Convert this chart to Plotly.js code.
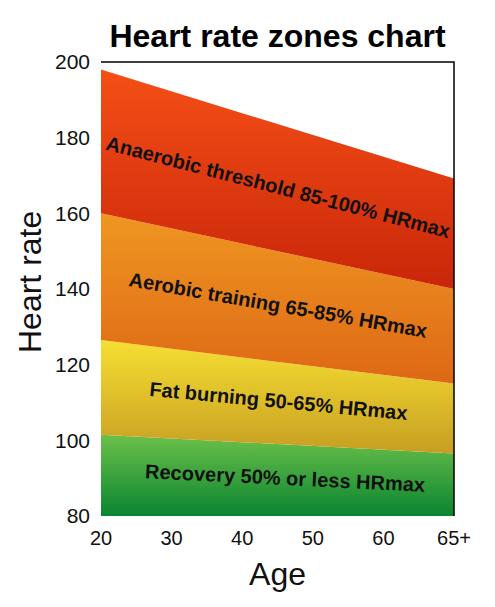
<!DOCTYPE html>
<html>
<head>
<meta charset="utf-8">
<script src="https://cdn.plot.ly/plotly-3.0.1.min.js"></script>
<style>html,body{margin:0;padding:0;background:#fff;}</style>
</head>
<body>
<div id="chart" style="width:495px;height:607px;"></div>
<script>
// Data
const ages = ['20', '30', '40', '50', '60', '65+'];
const floorHR = [80, 80, 80, 80, 80, 80];
const recoveryTop = [101.5, 100.5, 99.5, 98.5, 97.5, 96.5];     // 50% HRmax
const fatBurnTop = [126.5, 124.2, 122, 119.7, 117.3, 115];       // 65% HRmax
const aerobicTop = [160, 156, 152, 148, 144, 140];               // 85% HRmax
const anaerobicTop = [198, 192.2, 186.5, 180.7, 175, 169.2];     // 100% HRmax
const zoneLabels = [
  'Recovery 50% or less HRmax',
  'Fat burning 50-65% HRmax',
  'Aerobic training 65-85% HRmax',
  'Anaerobic threshold 85-100% HRmax'
];
const chartTitle = 'Heart rate zones chart';
const xTitle = 'Age';
const yTitle = 'Heart rate';

const FONT = 'Liberation Sans, Arial, sans-serif';

const bands = [
  {y: recoveryTop, lo: floorHR, c0: '#0A8530', c1: '#6CC04A'},
  {y: fatBurnTop, lo: recoveryTop, c0: '#C79E22', c1: '#F6DF32'},
  {y: aerobicTop, lo: fatBurnTop, c0: '#DE6815', c1: '#EF9621'},
  {y: anaerobicTop, lo: aerobicTop, c0: '#C9260A', c1: '#F54F16'}
];

const traces = [{
  x: ages, y: floorHR, type: 'scatter', mode: 'lines',
  line: {width: 0, color: 'rgba(0,0,0,0)'}, hoverinfo: 'skip', showlegend: false
}];
bands.forEach(b => {
  traces.push({
    x: ages, y: b.y, type: 'scatter', mode: 'lines', fill: 'tonexty',
    line: {width: 0, color: 'rgba(0,0,0,0)'},
    fillgradient: {
      type: 'vertical',
      start: Math.min(...b.lo),
      stop: Math.max(...b.y),
      colorscale: [[0, b.c0], [1, b.c1]]
    },
    hoverinfo: 'skip', showlegend: false
  });
});

const labelPos = [
  {x: 2.61, y: 90.1, a: 2.8},
  {x: 2.52, y: 110.3, a: 5.4},
  {x: 2.51, y: 135.9, a: 9.9},
  {x: 2.51, y: 167.0, a: 14.5}
];
const annotations = zoneLabels.map((t, i) => ({
  text: '<b>' + t + '</b>',
  x: labelPos[i].x, y: labelPos[i].y, xref: 'x', yref: 'y',
  textangle: labelPos[i].a, showarrow: false,
  xanchor: 'center', yanchor: 'middle',
  font: {family: FONT, size: 20, color: '#111'}
}));
// y-axis title as rotated text (positioned like the reference)
annotations.push({
  text: yTitle, textangle: -90, showarrow: false,
  xref: 'paper', yref: 'paper',
  x: (30 - 101) / 353, y: (516 - 282) / 454,
  xanchor: 'center', yanchor: 'middle',
  font: {family: FONT, size: 32, color: '#111'}
});

const layout = {
  width: 495, height: 607,
  margin: {l: 101, r: 41, t: 62, b: 91, pad: 0},
  paper_bgcolor: '#fff', plot_bgcolor: '#fff',
  title: {
    text: '<b>' + chartTitle + '</b>',
    font: {family: FONT, size: 32, color: '#000'},
    x: 0.5, xref: 'paper', xanchor: 'center',
    y: 1 - 35.5 / 607, yref: 'container', yanchor: 'middle'
  },
  xaxis: {
    type: 'category', categoryorder: 'array', categoryarray: ages,
    range: [0, 5], showgrid: false, zeroline: false, showline: false,
    ticks: '', ticklabelstandoff: 8,
    tickfont: {family: FONT, size: 20, color: '#111'},
    title: {text: xTitle, standoff: 14, font: {family: FONT, size: 32, color: '#111'}},
    fixedrange: true
  },
  yaxis: {
    range: [80, 200], dtick: 20, showgrid: false, zeroline: false, showline: false,
    ticks: '', ticklabelstandoff: 10,
    tickfont: {family: FONT, size: 21, color: '#111'},
    fixedrange: true
  },
  shapes: [{
    type: 'path', xref: 'paper', yref: 'paper', layer: 'above',
    path: 'M0,1 L1,1 L1,0', line: {color: '#000', width: 1.5}
  }],
  annotations: annotations,
  showlegend: false
};

Plotly.newPlot('chart', traces, layout, {displayModeBar: false, staticPlot: true});
</script>
</body>
</html>
